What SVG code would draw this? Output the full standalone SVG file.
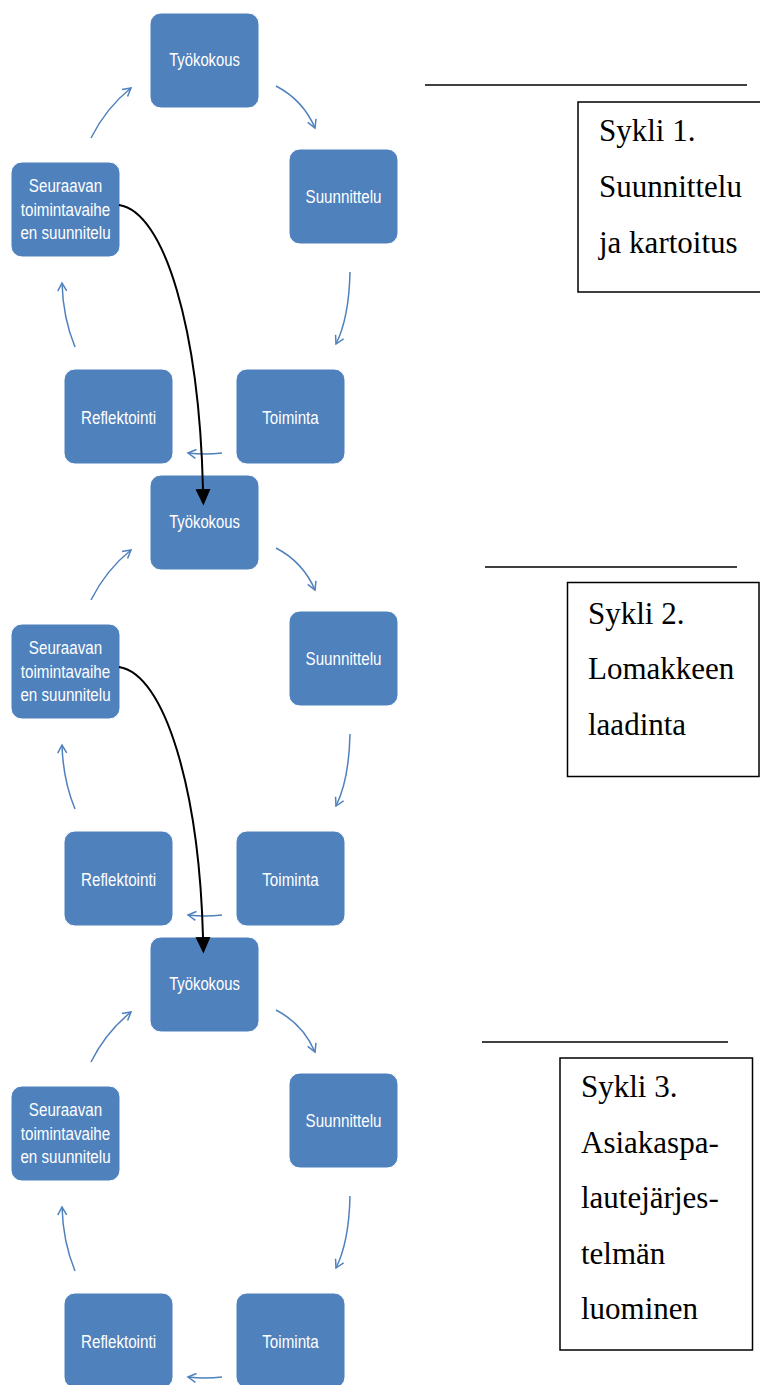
<svg xmlns="http://www.w3.org/2000/svg" width="760" height="1385" viewBox="0 0 760 1385">
<style>
.n rect{fill:#4F81BD;stroke:#ffffff;stroke-width:1}
.n text{fill:#ffffff;font-family:"Liberation Sans",Arial,sans-serif;font-size:18.5px;text-anchor:middle}
.b{fill:none;stroke:#4F81BD;stroke-width:1.5}
.k{fill:none;stroke:#000;stroke-width:2}
.box rect{fill:#fff;stroke:#000;stroke-width:1.5}
.box line{stroke:#000;stroke-width:1.5}
.box text{fill:#000;font-family:"Liberation Serif","Times New Roman",serif;font-size:31px}
</style>
<defs>
<marker id="ob" markerUnits="userSpaceOnUse" markerWidth="12" markerHeight="12" viewBox="0 0 12 12" refX="10" refY="6" orient="auto">
<path d="M2,1.5 L10,6 L2,10.5" fill="none" stroke="#4F81BD" stroke-width="1.5"/>
</marker>
<marker id="fk" markerUnits="userSpaceOnUse" markerWidth="17" markerHeight="16" viewBox="0 0 17 16" refX="0" refY="8" orient="auto">
<path d="M0,0.5 L16.5,8 L0,15.5 z" fill="#000"/>
</marker>
<g id="cyc">
<g class="n"><rect x="150" y="13" width="109" height="95" rx="11"/><text transform="translate(204.5,66) scale(0.8,1)">Työkokous</text></g>
<g class="n"><rect x="289" y="149" width="109" height="95" rx="11"/><text transform="translate(343.5,203) scale(0.82,1)">Suunnittelu</text></g>
<g class="n"><rect x="236" y="369" width="109" height="95" rx="11"/><text transform="translate(290.5,424) scale(0.82,1)">Toiminta</text></g>
<g class="n"><rect x="64" y="369" width="109" height="95" rx="11"/><text transform="translate(118.5,424) scale(0.82,1)">Reflektointi</text></g>
<g class="n"><rect x="11" y="162" width="109" height="95" rx="11"/><text transform="translate(65.5,192) scale(0.82,1)">Seuraavan</text><text transform="translate(65.5,215.5) scale(0.82,1)">toimintavaihe</text><text transform="translate(65.5,239) scale(0.82,1)">en suunnitelu</text></g>
<g class="b" marker-end="url(#ob)">
<path d="M276,86 Q303,100 315,128"/>
<path d="M350,272 Q349,318 336,344"/>
<path d="M222,453 Q205,455 188,453"/>
<path d="M75,347 Q63,318 62,283"/>
<path d="M91,138 Q106,108 131,88"/>
</g>
</g>
</defs>
<g id="cycle1"><use href="#cyc"/></g>
<g id="cycle2"><use href="#cyc" transform="translate(0,462)"/></g>
<g id="cycle3"><use href="#cyc" transform="translate(0,924)"/></g>
<g id="connectors">
<path class="k" d="M119,205 C165,212 199,330 203,489" marker-end="url(#fk)"/>
<path class="k" d="M119,667 C165,674 199,790 203,937" marker-end="url(#fk)"/>
</g>
<g id="sykli1" class="box">
<line x1="425" y1="85" x2="747" y2="85"/>
<rect x="578" y="102" width="186" height="190"/>
<text x="599" y="141">Sykli 1.</text>
<text x="599" y="197">Suunnittelu</text>
<text x="599" y="253">ja kartoitus</text>
</g>
<g id="sykli2" class="box">
<line x1="485" y1="567" x2="737" y2="567"/>
<rect x="567.5" y="582.5" width="191.5" height="194"/>
<text x="588" y="624">Sykli 2.</text>
<text x="588" y="679">Lomakkeen</text>
<text x="588" y="735">laadinta</text>
</g>
<g id="sykli3" class="box">
<line x1="482" y1="1042" x2="728" y2="1042"/>
<rect x="560" y="1058" width="192.5" height="292"/>
<text x="581" y="1097">Sykli 3.</text>
<text x="581" y="1153">Asiakaspa-</text>
<text x="581" y="1208">lautejärjes-</text>
<text x="581" y="1264">telmän</text>
<text x="581" y="1319">luominen</text>
</g>
</svg>
